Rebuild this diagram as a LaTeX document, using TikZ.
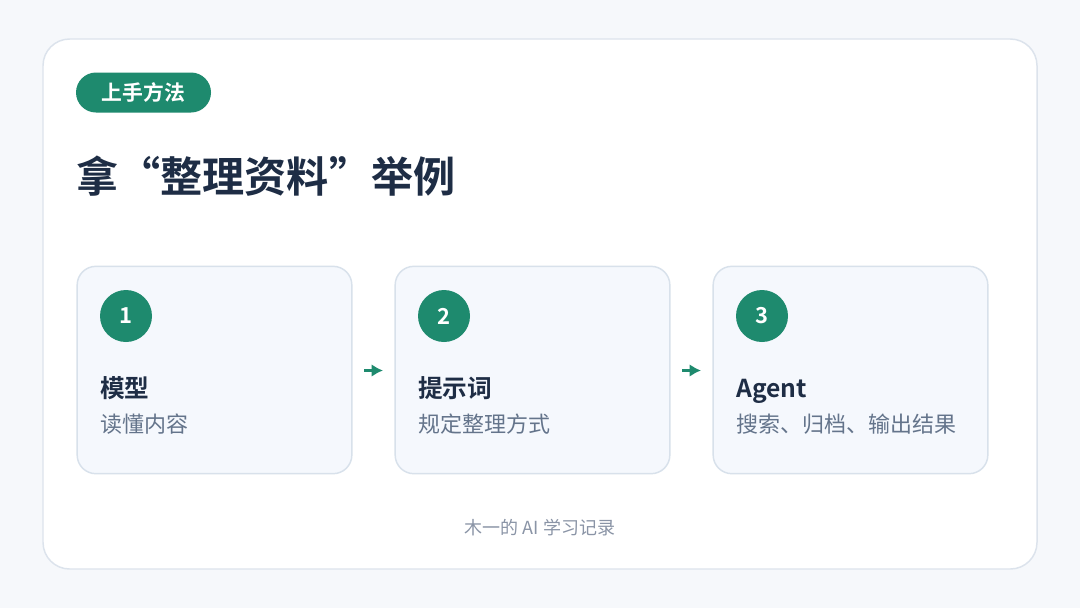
\documentclass[tikz,border=0pt]{standalone}
\usepackage{fontspec}
\setmainfont{Noto Sans CJK SC}[BoldFont={Noto Sans CJK SC Bold}]
\usetikzlibrary{arrows.meta}
\definecolor{pagebg}{HTML}{F6F8FB}
\definecolor{cardline}{HTML}{DCE3EC}
\definecolor{accent}{HTML}{1E8A6E}
\definecolor{ink}{HTML}{1E2D45}
\definecolor{subink}{HTML}{64748B}
\definecolor{footink}{HTML}{8A94A6}
\definecolor{boxfill}{HTML}{F5F8FD}
\definecolor{boxline}{HTML}{D8E1EB}
\tikzset{
  stepbox/.style={draw=boxline, fill=boxfill, line width=1.1pt, rounded corners=14pt,
    minimum width=206pt, minimum height=155.5pt, inner sep=0pt},
  numdot/.style={circle, fill=accent, minimum size=39pt, inner sep=0pt, text=white,
    font=\bfseries\fontsize{16.5pt}{18pt}\selectfont},
  steptitle/.style={anchor=base west, inner sep=0pt, text=ink, font=\bfseries\fontsize{18.5pt}{22pt}\selectfont},
  stepsub/.style={anchor=west, inner sep=0pt, text=subink, font=\fontsize{16.5pt}{20pt}\selectfont},
  flow/.style={draw=accent, line width=2.2pt, -{Latex[length=8.5pt,width=9.5pt]}, shorten <=9pt, shorten >=9pt}
}
\begin{document}
\begin{tikzpicture}[x=0.75pt,y=-0.75pt]
\useasboundingbox (0,0) rectangle (1080,608);
\fill[pagebg] (0,0) rectangle (1080,608);
\node[draw=cardline, fill=white, line width=1.1pt, rounded corners=20pt, minimum width=745.5pt, minimum height=397.5pt, inner sep=0pt] (card) at (540,304) {};
\node[fill=accent, rounded corners=15pt, minimum width=101.25pt, minimum height=30pt, inner sep=0pt, text=white, font=\bfseries\fontsize{15.6pt}{18pt}\selectfont] (tag) at (143.5,92.5) {上手方法};
\node[anchor=west, inner sep=0pt, text=ink, font=\bfseries\fontsize{31.6pt}{36pt}\selectfont] (title) at (76,176.5) {拿“整理资料”举例};

\node[stepbox] (b1) at (214.5,370) {};
\node[stepbox] (b2) at (532.5,370) {};
\node[stepbox] (b3) at (850.5,370) {};

\node[numdot] (n1) at (126,316) {1};
\node[numdot] (n2) at (444,316) {2};
\node[numdot] (n3) at (762,316) {3};

\node[steptitle] (t1) at (100,397.5) {模型};
\node[stepsub] (s1) at (100,424.5) {读懂内容};
\node[steptitle] (t2) at (418,397.5) {提示词};
\node[stepsub] (s2) at (418,424.5) {规定整理方式};
\node[steptitle] (t3) at (736,397.5) {Agent};
\node[stepsub] (s3) at (736,424.5) {搜索、归档、输出结果};

\coordinate (a1s) at (352,370.5);
\coordinate (a1e) at (395,370.5);
\coordinate (a2s) at (670,370.5);
\coordinate (a2e) at (713,370.5);
\draw[flow] (a1s) -- (a1e);
\draw[flow] (a2s) -- (a2e);

\node[inner sep=0pt, text=footink, font=\fontsize{13.5pt}{16pt}\selectfont] (foot) at (540,527.5) {木一的 AI 学习记录};
\end{tikzpicture}
\end{document}
